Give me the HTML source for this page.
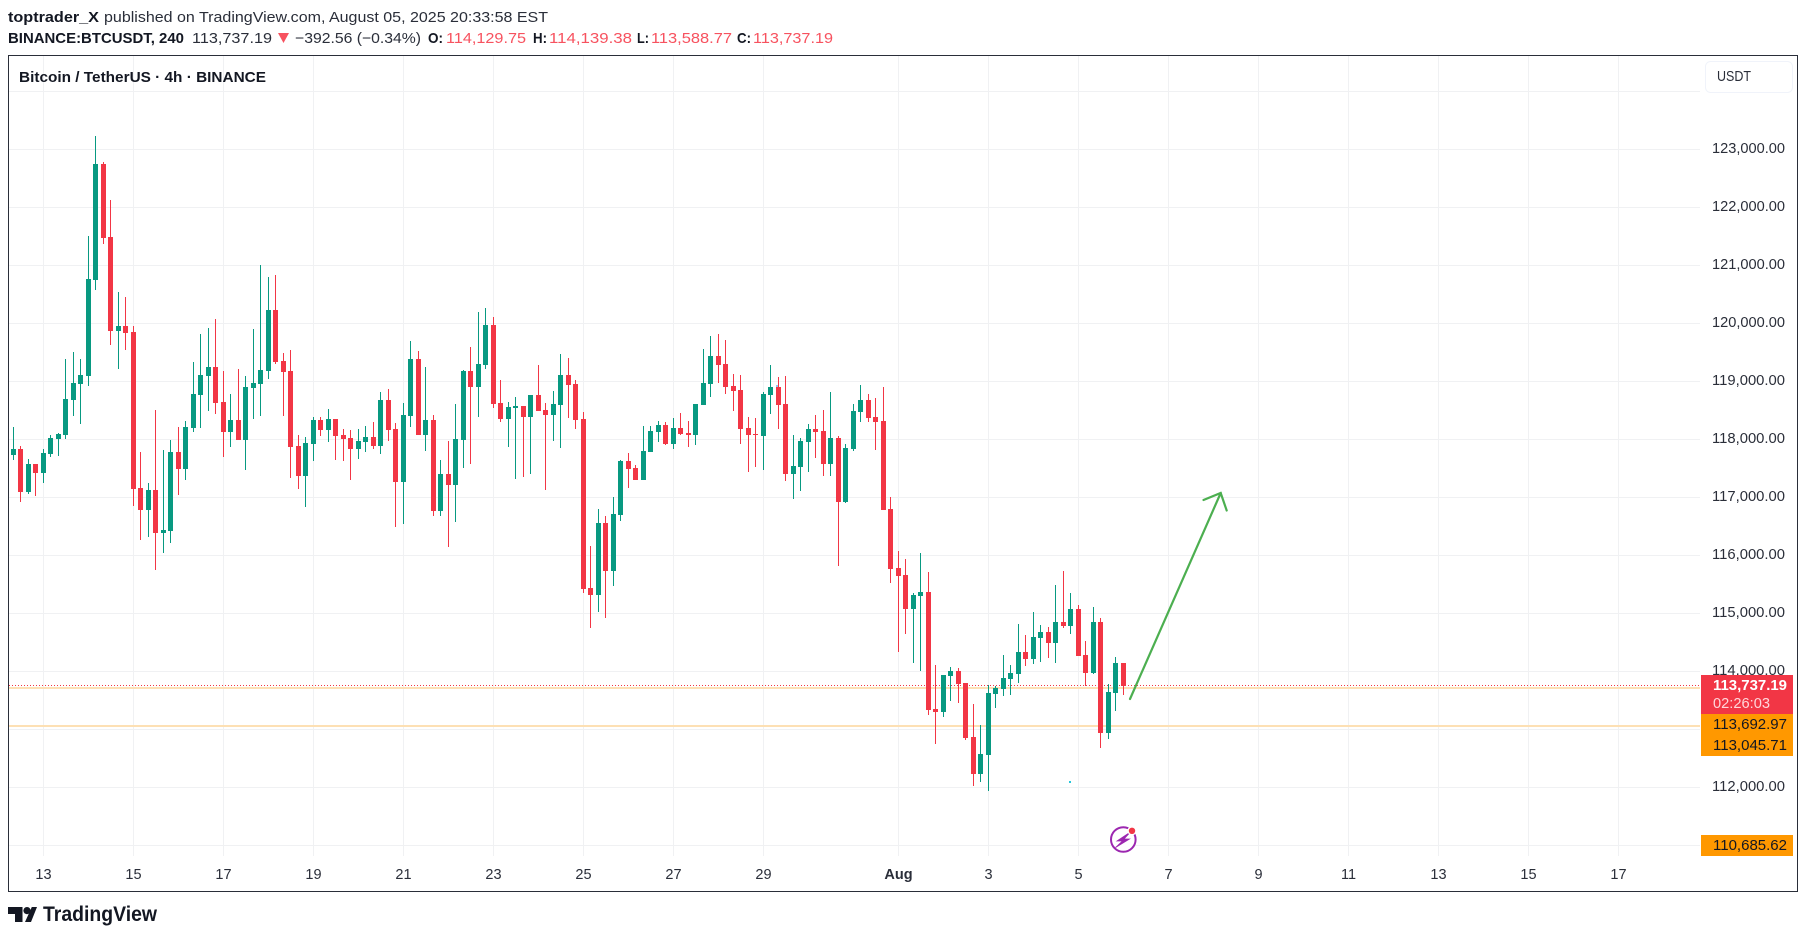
<!DOCTYPE html>
<html lang="en">
<head>
<meta charset="utf-8">
<title>Bitcoin / TetherUS 4h chart</title>
<style>
html,body{margin:0;padding:0;background:#fff;width:1806px;height:938px;overflow:hidden}
svg{display:block;font-family:"Liberation Sans",sans-serif}
text{white-space:pre}
</style>
</head>
<body>
<svg id="chart" xmlns="http://www.w3.org/2000/svg" width="1806" height="938" viewBox="0 0 1806 938">
  <rect x="0" y="0" width="1806" height="938" fill="#ffffff"/>

  <g font-size="15" fill="#131722">
    <text x="8" y="22" font-weight="700" textLength="91" lengthAdjust="spacingAndGlyphs">toptrader_X</text>
    <text x="104" y="22" fill="#2a2e39" textLength="444" lengthAdjust="spacingAndGlyphs">published on TradingView.com, August 05, 2025 20:33:58 EST</text>
    <text x="8" y="43" font-weight="700" textLength="176" lengthAdjust="spacingAndGlyphs">BINANCE:BTCUSDT, 240</text>
    <text x="192" y="43" fill="#2a2e39" textLength="80" lengthAdjust="spacingAndGlyphs">113,737.19</text>
    <polygon points="278,33 289,33 283.5,43" fill="#f7525f"/>
    <text x="295" y="43" fill="#2a2e39" textLength="126" lengthAdjust="spacingAndGlyphs">−392.56 (−0.34%)</text>
    <text x="428" y="43" font-weight="700" textLength="15" lengthAdjust="spacingAndGlyphs">O:</text>
    <text x="446" y="43" fill="#f7525f" textLength="80" lengthAdjust="spacingAndGlyphs">114,129.75</text>
    <text x="533" y="43" font-weight="700" textLength="14" lengthAdjust="spacingAndGlyphs">H:</text>
    <text x="549" y="43" fill="#f7525f" textLength="83" lengthAdjust="spacingAndGlyphs">114,139.38</text>
    <text x="637" y="43" font-weight="700" textLength="12" lengthAdjust="spacingAndGlyphs">L:</text>
    <text x="651" y="43" fill="#f7525f" textLength="81" lengthAdjust="spacingAndGlyphs">113,588.77</text>
    <text x="737" y="43" font-weight="700" textLength="14" lengthAdjust="spacingAndGlyphs">C:</text>
    <text x="753" y="43" fill="#f7525f" textLength="80" lengthAdjust="spacingAndGlyphs">113,737.19</text>
  </g>

  <g id="grid" shape-rendering="crispEdges"></g>
  <g id="levels" shape-rendering="crispEdges"></g>
  <g id="candles" shape-rendering="crispEdges"></g>
  <g id="priceLabels" font-size="14.5" fill="#2a2e39"></g>
  <g id="timeLabels" font-size="14.5" fill="#2a2e39" text-anchor="middle"></g>

  <text x="19" y="82" font-size="15" font-weight="700" fill="#131722" textLength="247" lengthAdjust="spacingAndGlyphs">Bitcoin / TetherUS · 4h · BINANCE</text>

  <g fill="none" stroke="#4caf50" stroke-width="2.2" stroke-linecap="round">
    <line x1="1130" y1="699" x2="1220.7" y2="493"/>
    <polyline points="1203.5,500 1220.7,493 1226.7,510.5"/>
  </g>

  <rect x="1069" y="781" width="2" height="2" fill="#26c6da" shape-rendering="crispEdges"/>
  <rect x="776" y="385" width="2" height="2" fill="#90caf9" shape-rendering="crispEdges"/>

  <g>
    <circle cx="1123.3" cy="839.5" r="12.3" fill="#fff" stroke="#9c27b0" stroke-width="2"/>
    <path d="M1130.5 832 L1117 841 L1122.5 841 L1115.5 847.5 L1129.5 839 L1124 839 Z" fill="#9c27b0" stroke="#9c27b0" stroke-width=".8"/>
    <circle cx="1132" cy="830.8" r="4.6" fill="#fff"/>
    <circle cx="1132" cy="830.8" r="3.2" fill="#f23645"/>
  </g>

  <rect x="1705.5" y="61.5" width="87" height="31" rx="5" fill="#fff" stroke="#f0f3fa"/>
  <text x="1717" y="81" font-size="15" fill="#2a2e39" textLength="34" lengthAdjust="spacingAndGlyphs">USDT</text>

  <g font-size="14.5">
    <rect x="1701" y="675" width="92" height="39" fill="#f23645" shape-rendering="crispEdges"/>
    <text x="1713" y="690" fill="#ffffff" font-weight="700" textLength="74" lengthAdjust="spacingAndGlyphs">113,737.19</text>
    <text x="1713" y="708" fill="#ffd6da" textLength="57" lengthAdjust="spacingAndGlyphs">02:26:03</text>
    <rect x="1701" y="714" width="92" height="21" fill="#ff9800" shape-rendering="crispEdges"/>
    <text x="1713" y="729" fill="#131722" textLength="74" lengthAdjust="spacingAndGlyphs">113,692.97</text>
    <rect x="1701" y="735" width="92" height="21" fill="#ff9800" shape-rendering="crispEdges"/>
    <text x="1713" y="750" fill="#131722" textLength="74" lengthAdjust="spacingAndGlyphs">113,045.71</text>
    <rect x="1701" y="835" width="92" height="21" fill="#ff9800" shape-rendering="crispEdges"/>
    <text x="1713" y="850" fill="#131722" textLength="74" lengthAdjust="spacingAndGlyphs">110,685.62</text>
  </g>

  <rect x="8.5" y="55.5" width="1789" height="836" fill="none" stroke="#2a2e39" stroke-width="1" shape-rendering="crispEdges"/>

  <g fill="#131722">
    <path d="M8 907 H22.5 V922 H15 V914 H8 Z"/>
    <circle cx="27" cy="910.6" r="3.6"/>
    <polygon points="31.8,907 37,907 31,922 25,922"/>
    <text x="43" y="921" font-size="21" font-weight="700" textLength="114" lengthAdjust="spacingAndGlyphs">TradingView</text>
  </g>
</svg>

<script>
var opens = [
117725,117829,117087,117570,117415,117743,118001,118070,118674,118950,
119088,120744,122745,121486,119864,119950,119847,117156,116776,117121,
116380,116414,117777,117484,118191,118760,119088,119243,118640,118122,
118329,117984,118881,118950,119174,120227,119347,119174,117881,117363,
117914,118328,118156,118346,118070,118018,117828,117949,118035,117880,
118673,118173,117259,118397,119381,118070,118328,116759,117397,117207,
117983,119174,118898,119277,119967,118622,118346,118535,118570,118380,
118760,118501,118415,118587,119105,118950,118346,115431,115310,116552,
115724,116690,117622,117501,117294,117777,118122,118243,117915,118191,
118105,118070,118588,118950,119433,119295,118916,118847,118191,118088,
118053,118760,118898,118605,117398,117518,117950,118174,118139,117570,
118019,116915,117829,118467,118674,118381,118312,116794,115776,115655,
115069,115293,115362,113344,113292,113913,113999,113792,112861,112223,
112550,113603,113689,113861,113948,114327,114206,114569,114672,114482,
114845,114776,115069,114275,113965,114845,112930,113620,114129.75];
var highs = [
118208,117881,117656,117570,117829,118070,118105,119381,119502,119381,
121503,123228,122779,122124,120537,120451,119950,117777,117242,118501,
117811,117984,118208,118312,119330,119813,119916,120071,119174,118778,
119209,119088,119899,121003,120796,120830,119485,119536,118070,118036,
118380,118380,118518,118346,118173,118156,118173,118225,118294,118811,
118863,118277,118622,119691,119519,119243,118415,117638,117966,118604,
119191,119588,120191,120260,120105,119018,118639,118725,118570,118760,
119277,118622,118829,119467,119398,119018,118467,116155,116793,116672,
117000,117639,117760,117553,118226,118226,118312,118295,118364,118450,
118312,118605,119554,119778,119813,119709,119123,119105,118381,118364,
118812,119278,119071,119088,118070,118019,118260,118415,118502,118812,
118053,117915,118605,118933,118778,118709,118898,117001,116069,115931,
115345,116035,115707,114103,113930,114068,114051,113792,113430,113068,
113758,113741,114275,114103,114810,114620,115017,114793,114758,115483,
115724,115345,115138,114517,115103,114914,113775,114241,114139.38];
var lows = [
117639,116915,117053,117018,117242,117691,117708,118001,118398,118260,
118915,120571,121365,119623,119209,119536,116845,116259,116311,115741,
116035,116207,117035,117294,118122,118191,118484,118433,117691,117863,
117984,117467,118346,118398,119036,119295,118398,117329,117139,116828,
117621,118052,117949,117638,117621,117293,117656,117776,117828,117742,
117966,116483,116534,118208,118070,117794,116672,116672,116138,116569,
117500,117569,118380,119208,118535,118294,117863,117311,117345,117397,
118484,117121,117966,117846,118363,118173,115344,114741,115017,114913,
115465,116587,117156,117294,117294,117777,117950,117898,117829,118070,
117863,117898,118588,118726,118967,118778,118484,117915,117432,117518,
117467,118433,118174,117277,116966,117104,117432,117674,117363,117363,
115811,116897,117794,118295,118295,117812,116777,115517,114327,114638,
114137,113999,113240,112740,113206,113482,113447,112809,112016,112085,
111929,113361,113568,113585,113792,114086,114120,114155,114224,114137,
114741,114638,114258,113740,113948,112671,112826,113309,113588.77];
var closes = [
117829,117087,117570,117415,117760,118019,118088,118691,118967,119105,
120761,122745,121468,119864,119950,119830,117139,116776,117121,116380,
116431,117777,117484,118208,118778,119105,119243,118622,118122,118329,
117984,118898,118967,119192,120227,119330,119157,117863,117363,117932,
118328,118156,118346,118052,118001,117828,117966,118035,117880,118673,
118156,117259,118415,119381,118070,118328,116759,117397,117207,118001,
119174,118898,119294,119967,118604,118346,118553,118570,118380,118760,
118484,118415,118604,119105,118932,118328,115413,115310,116552,115724,
116707,117622,117484,117294,117794,118139,118243,117915,118191,118088,
118070,118605,118967,119433,119278,118898,118829,118174,118070,118070,
118778,118898,118588,117398,117536,117967,118174,118122,117570,118019,
116915,117846,118484,118674,118364,118295,116777,115759,115638,115069,
115310,115362,113327,113292,113930,113999,113775,112844,112223,112568,
113620,113706,113879,113965,114327,114206,114586,114672,114482,114845,
114776,115069,114258,113965,114845,112930,113637,114129,113737.19];

var gridPrices = [124000,123000,122000,121000,120000,119000,118000,117000,116000,115000,114000,113000,112000,111000];
var priceTickValues = [123000,122000,121000,120000,119000,118000,117000,116000,115000,114000,112000];
var timeTickBars = [4,16,28,40,52,64,76,88,100,118,130,142,154,166,178,190,202,214];
var timeTickLabels = ["13","15","17","19","21","23","25","27","29","Aug","3","5","7","9","11","13","15","17"];
var lastPrice = 113737.19;
var levelPrices = [113692.97,113045.71];

var NS = "http://www.w3.org/2000/svg";
var UP = "#089981", DOWN = "#f23645", GRID = "#f0f1f3";

function xScale(bar){ return 13.3 + 7.5 * bar; }
function yScale(price){ return 149.2 + (123000 - price) * 0.05797; }
function px(bar){ return Math.floor(xScale(bar)); }
function py(price){ return Math.round(yScale(price)); }

function makeRect(parent,x,y,w,h,fill){
  var r = document.createElementNS(NS,"rect");
  r.setAttribute("x",x);
  r.setAttribute("y",y);
  r.setAttribute("width",w);
  r.setAttribute("height",h);
  r.setAttribute("fill",fill);
  parent.appendChild(r);
  return r;
}

var gridGroup = document.getElementById("grid");
gridPrices.forEach(function(p){
  var line = makeRect(gridGroup,9,py(p),1691,1,GRID);
  
  
});
timeTickBars.forEach(function(b){
  var line = makeRect(gridGroup,px(b),56,1,800,GRID);
  
  
});

var levelGroup = document.getElementById("levels");
levelPrices.forEach(function(p){
  var band = makeRect(levelGroup,9,Math.round(yScale(p)-1.5),1691,2,"#fde0b4");
  
  
});
var lastLine = document.createElementNS(NS,"line");
lastLine.setAttribute("x1",9);
lastLine.setAttribute("x2",1700);
lastLine.setAttribute("y1",py(lastPrice)-0.5);
lastLine.setAttribute("y2",py(lastPrice)-0.5);
lastLine.setAttribute("stroke",DOWN);
lastLine.setAttribute("stroke-width",1);
lastLine.setAttribute("stroke-dasharray","1 2");


levelGroup.appendChild(lastLine);

var candleGroup = document.getElementById("candles");
opens.forEach(function(o,i){
  var c = closes[i], color = c >= o ? UP : DOWN, wx = px(i);
  var top = py(Math.max(o,c)), bottom = py(Math.min(o,c));
  var g = document.createElementNS(NS,"g");
  
  
  var wick = makeRect(g,wx,py(highs[i]),1,Math.max(1,py(lows[i])-py(highs[i])),color);
  
  
  var body = makeRect(g,wx-2,top,5,Math.max(1,bottom-top),color);
  
  
  candleGroup.appendChild(g);
});

var priceGroup = document.getElementById("priceLabels");
priceTickValues.forEach(function(p){
  var t = document.createElementNS(NS,"text");
  t.setAttribute("x",1712);
  t.setAttribute("y",py(p)+4);
  t.setAttribute("textLength",73);
  t.setAttribute("lengthAdjust","spacingAndGlyphs");
  t.textContent = p.toLocaleString("en-US",{minimumFractionDigits:2,maximumFractionDigits:2});
  
  
  priceGroup.appendChild(t);
});

var timeGroup = document.getElementById("timeLabels");
timeTickBars.forEach(function(b,i){
  var t = document.createElementNS(NS,"text");
  t.setAttribute("x",px(b)+0.5);
  t.setAttribute("y",879);
  if(timeTickLabels[i] === "Aug"){
    t.setAttribute("font-weight","700");
  }
  t.textContent = timeTickLabels[i];
  
  
  timeGroup.appendChild(t);
});
</script>
</body>
</html>
